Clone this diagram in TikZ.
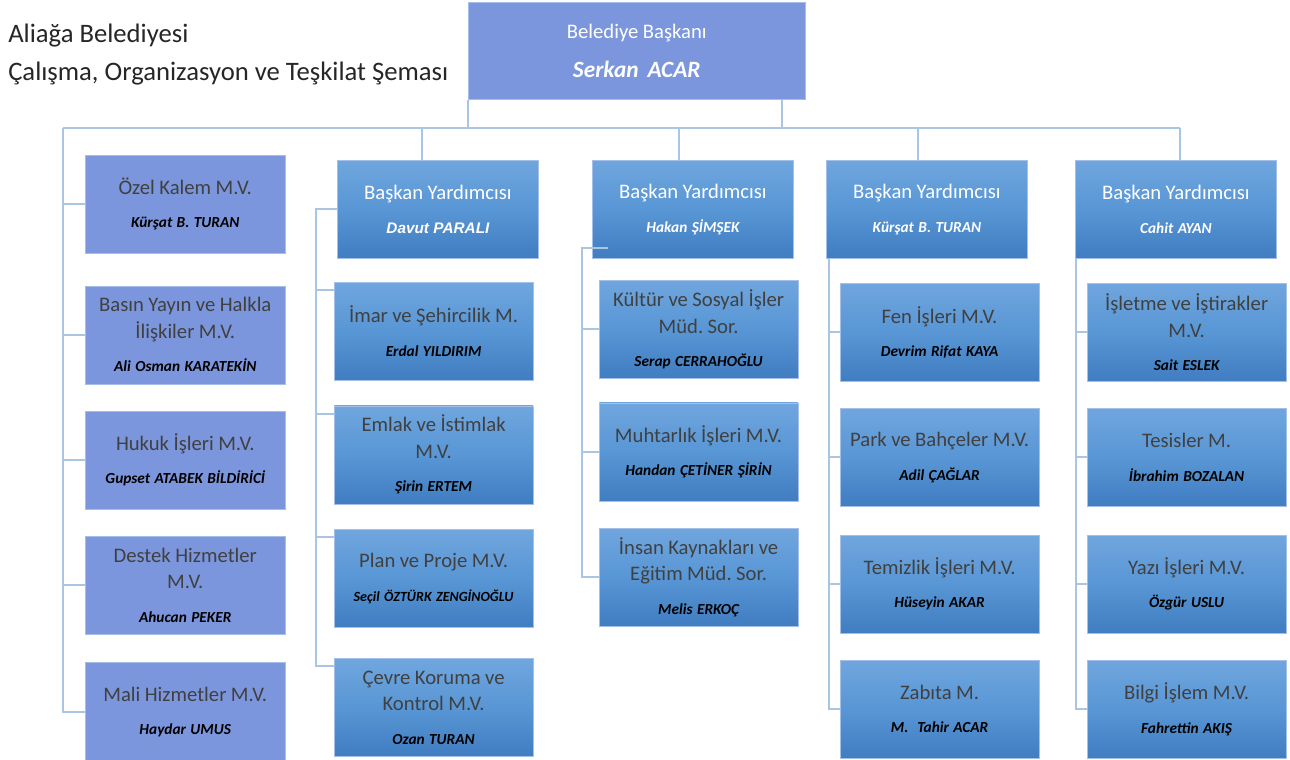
\documentclass[tikz,border=0pt]{standalone}
\usepackage{fontspec}
\setmainfont{Carlito}
\newfontfamily\arialish{Liberation Sans}
\usetikzlibrary{positioning,calc}

\definecolor{periwinkle}{RGB}{123,150,220}
\definecolor{btop}{RGB}{112,166,222}
\definecolor{bmid}{RGB}{88,150,213}
\definecolor{bbot}{RGB}{64,125,193}
\definecolor{linkblue}{RGB}{168,197,228}
\definecolor{textgray}{RGB}{64,64,64}
\definecolor{edgeblue}{RGB}{165,192,232}

\tikzstyle{mayor} = [
  rectangle, draw=edgeblue, fill=periwinkle, text=white, align=center, text width=240pt,
  minimum width=252.75pt, minimum height=72.75pt, inner sep=0pt
]
\tikzstyle{staff} = [
  rectangle, draw=edgeblue, fill=periwinkle, text=textgray, text width=148pt,
  align=center, minimum width=150pt, minimum height=73.5pt, inner sep=0pt
]
\tikzstyle{deputy} = [
  rectangle, draw=edgeblue, top color=btop, bottom color=bbot, middle color=bmid,
  text=white, text width=148pt, align=center, minimum width=151pt,
  minimum height=73.5pt, inner sep=0pt
]
\tikzstyle{unit} = [deputy, text=textgray, minimum width=149pt]
\tikzstyle{link} = [draw=linkblue, line width=1.5pt]

\newcommand{\post}[2]{{\fontsize{15.5}{20}\selectfont #1\par}\vspace{12pt}%
  {\fontsize{11.5}{13}\selectfont\bfseries\itshape\color{black}#2\par}}
\newcommand{\deputyof}[1]{{\fontsize{15.5}{20}\selectfont Başkan Yardımcısı\par}\vspace{12.5pt}%
  {\fontsize{11.5}{13}\selectfont\bfseries\itshape #1\par}}

\begin{document}
\begin{tikzpicture}[x=0.75pt, y=-0.75pt]
    \useasboundingbox (0,0) rectangle (1290,760);

    % title
    \node[anchor=base west, inner sep=0pt, text=black!85, font=\fontsize{20}{24}\selectfont] (org) at (8,42) {Aliağa Belediyesi};
    \node[anchor=base west, inner sep=0pt, text=black!85, font=\fontsize{20}{24}\selectfont] (chart) at (8,80) {Çalışma, Organizasyon ve Teşkilat Şeması};

    \node[mayor, anchor=north west] (mayor) at (468,2) {{\fontsize{15.5}{18}\selectfont Belediye Başkanı\par}\vspace{10pt}{\fontsize{17.5}{19}\selectfont\bfseries\itshape Serkan ~ACAR\par}};

    % staff column
    \node[staff, anchor=north west] (ob1) at (85,155) {\post{Özel Kalem M.V.}{Kürşat B. TURAN}};
    \node[staff, below=24pt of ob1] (ob2) {\post{Basın Yayın ve Halkla\\İlişkiler M.V.}{Ali Osman KARATEKİN}};
    \node[staff, below=20pt of ob2] (ob3) {\post{Hukuk İşleri M.V.}{Gupset ATABEK BİLDİRİCİ}};
    \node[staff, below=20pt of ob3] (ob4) {\post{Destek Hizmetler\\M.V.}{Ahucan PEKER}};
    \node[staff, below=21pt of ob4] (ob5) {\post{Mali Hizmetler M.V.}{Haydar UMUS}};

    % deputies
    \node[deputy, anchor=north west] (bh2) at (337,160) {\deputyof{{\arialish Davut PARALI}}};
    \node[deputy, anchor=north west] (bh3) at (592,160) {\deputyof{Hakan ŞİMŞEK}};
    \node[deputy, anchor=north west] (bh4) at (826,160) {\deputyof{Kürşat B. TURAN}};
    \node[deputy, anchor=north west] (bh5) at (1075,160) {\deputyof{Cahit AYAN}};

    \node[unit, anchor=north west] (c21) at (334,282) {\post{İmar ve Şehircilik M.}{Erdal YILDIRIM}};
    \node[unit, below=18.75pt of c21] (c22) {\post{Emlak ve İstimlak\\M.V.}{Şirin ERTEM}};
    \node[unit, below=18.75pt of c22] (c23) {\post{Plan ve Proje M.V.}{\fontsize{10.5}{13}\selectfont Seçil ÖZTÜRK ZENGİNOĞLU}};
    \node[unit, below=23pt of c23] (c24) {\post{Çevre Koruma ve\\Kontrol M.V.}{Ozan TURAN}};

    \node[unit, anchor=north west] (c31) at (599,280) {\post{Kültür ve Sosyal İşler\\Müd.\ Sor.}{Serap CERRAHOĞLU}};
    \node[unit, below=18pt of c31] (c32) {\post{Muhtarlık İşleri M.V.}{Handan ÇETİNER ŞİRİN}};
    \node[unit, below=20pt of c32] (c33) {\post{İnsan Kaynakları ve\\Eğitim Müd.\ Sor.}{Melis ERKOÇ}};

    \node[unit, anchor=north west] (c41) at (840,283) {\post{Fen İşleri M.V.}{Devrim Rifat KAYA}};
    \node[unit, below=20pt of c41] (c42) {\post{Park ve Bahçeler M.V.}{Adil ÇAĞLAR}};
    \node[unit, below=21pt of c42] (c43) {\post{Temizlik İşleri M.V.}{Hüseyin AKAR}};
    \node[unit, below=20pt of c43] (c44) {\post{Zabıta M.}{M. ~Tahir ACAR}};

    \node[unit, anchor=north west] (c51) at (1087,283) {\post{İşletme ve İştirakler\\M.V.}{Sait ESLEK}};
    \node[unit, below=20pt of c51] (c52) {\post{Tesisler M.}{İbrahim BOZALAN}};
    \node[unit, below=21pt of c52] (c53) {\post{Yazı İşleri M.V.}{Özgür USLU}};
    \node[unit, below=20pt of c53] (c54) {\post{Bilgi İşlem M.V.}{Fahrettin AKIŞ}};

    % connectors
    \coordinate (busL) at (63,128);
    \coordinate (busR) at (1180,128);
    \draw[link] (busL) -- (busR);
    \draw[link] (mayor.south west) -- (mayor.south west |- busL);
    \draw[link] ($(mayor.south east)+(-24,0)$) coordinate (m2) -- (m2 |- busL);
    \draw[link] ($(bh2.north)+(-16,0)$) coordinate (d2) -- (d2 |- busL);
    \draw[link] ($(bh3.north)+(-14,0)$) coordinate (d3) -- (d3 |- busL);
    \draw[link] ($(bh4.north)+(-9,0)$) coordinate (d4) -- (d4 |- busL);
    \draw[link] (busR) -- (busR |- bh5.north);

    \draw[link] (busL) |- (ob5.west);
    \foreach \n in {ob1,ob2,ob3,ob4}
      \draw[link] (busL |- \n.west) -- (\n.west);

    \coordinate (sp2) at ($(bh2.west)+(-21,0)$);
    \draw[link] (bh2.west) -| ($(sp2 |- c24.north)+(0,8)$) -- ($(c24.north west)+(0,8)$);
    \foreach \n in {c21,c22,c23}
      \draw[link] ($(sp2 |- \n.north)+(0,8)$) -- ($(\n.north west)+(0,8)$);

    \coordinate (sp3) at ($(bh3.west)+(-10,0)$);
    \draw[link] ($(bh3.south west)+(16,-11)$) -| (sp3 |- c33.west) -- (c33.west);
    \foreach \n in {c31,c32}
      \draw[link] (sp3 |- \n.west) -- (\n.west);

    \draw[link] ($(bh4.south west)+(3,0)$) coordinate (sp4) |- (c44.west);
    \foreach \n in {c41,c42,c43}
      \draw[link] (sp4 |- \n.west) -- (\n.west);

    \draw[link] ($(bh5.south west)+(1,0)$) coordinate (sp5) |- (c54.west);
    \foreach \n in {c51,c52,c53}
      \draw[link] (sp5 |- \n.west) -- (\n.west);
\end{tikzpicture}
\end{document}
